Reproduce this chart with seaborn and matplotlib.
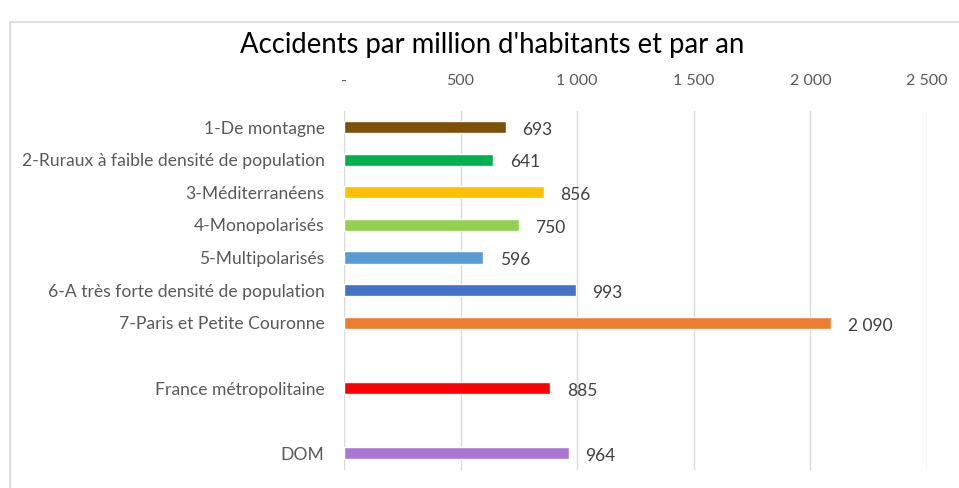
import pandas as pd
import seaborn as sns
import matplotlib.pyplot as plt
from matplotlib.patches import Rectangle
from matplotlib.ticker import FuncFormatter

# data (blank slots keep the gaps)
categories = ['1-De montagne', '2-Ruraux à faible densité de population', '3-Méditerranéens',
              '4-Monopolarisés', '5-Multipolarisés', '6-A très forte densité de population',
              '7-Paris et Petite Couronne', ' ', 'France métropolitaine', '  ', 'DOM']
values = [693, 641, 856, 750, 596, 993, 2090, None, 885, None, 964]
colors = ['#7F4F08', '#00B050', '#FFC000', '#92D050', '#5B9BD5', '#4472C4',
          '#ED7D31', '#FFFFFF', '#FF0000', '#FFFFFF', '#AB77D4']
x_ticks = [0, 500, 1000, 1500, 2000, 2500]

df = pd.DataFrame({'cat': categories, 'val': values})

sns.set_theme(style='white')
plt.rcParams['font.family'] = ['Lato', 'DejaVu Sans']
text_col = '#595959'

fig = plt.figure(figsize=(9.59, 4.88), dpi=100)
fig.patches.append(Rectangle((10 / 959, -0.1), 1.2, 1.1 - 22 / 488, transform=fig.transFigure,
                             fill=False, edgecolor='#D9D9D9', linewidth=1.2))
ax = fig.add_axes([344 / 959, 1 - 469.6 / 488, 583 / 959, 358.9 / 488])

sns.barplot(data=df, x='val', y='cat', hue='cat', order=categories, hue_order=categories,
            palette=colors, saturation=1, legend=False, width=0.37, orient='h', ax=ax)

ax.set_xlim(0, 2500)
ax.set_xticks(x_ticks)
ax.xaxis.tick_top()
ax.xaxis.set_major_formatter(FuncFormatter(lambda v, p: '-' if v == 0 else f'{int(v):,}'.replace(',', ' ')))
ax.tick_params(axis='x', length=0, pad=16, labelsize=11.5, labelcolor=text_col)
ax.tick_params(axis='y', length=0, pad=14, labelsize=12.6, labelcolor=text_col)
ax.grid(axis='x', color='#D9D9D9', linewidth=1)
ax.set_axisbelow(True)
for s in ax.spines.values():
    s.set_visible(False)
ax.set_xlabel('')
ax.set_ylabel('')

for i, v in enumerate(values):
    if v is None:
        continue
    ax.annotate(f'{v:,}'.replace(',', ' '), (v, i), xytext=(12, -2), textcoords='offset points',
                ha='left', va='center', fontsize=12.5, color='#404040')

fig.text(492 / 959, 1 - 45 / 488, "Accidents par million d'habitants et par an",
         ha='center', va='center', fontsize=19.8, color='#000000')

fig.savefig('out.png', dpi=100)
